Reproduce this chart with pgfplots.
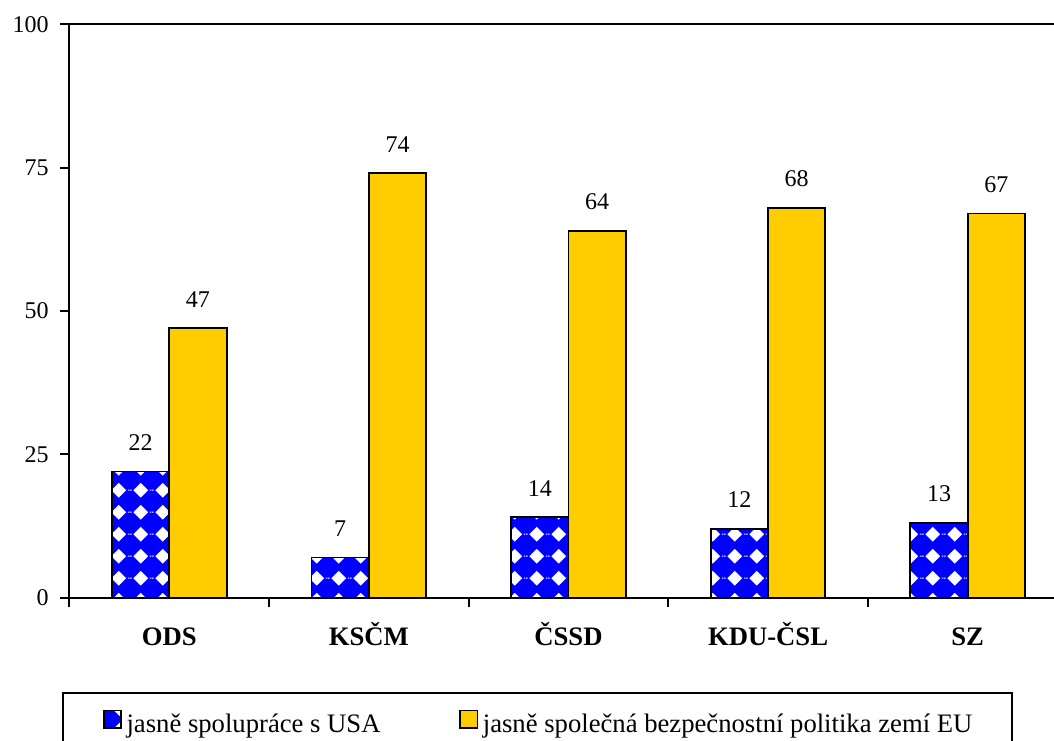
\documentclass[border=0pt]{standalone}
\usepackage{pgfplots}
\pgfplotsset{compat=1.18}
\usepackage{fontspec}
\setmainfont{Liberation Serif}
\usetikzlibrary{patterns}
\definecolor{barblue}{RGB}{0,0,255}
\definecolor{baryellow}{RGB}{255,204,0}
\pgfdeclarepatternformonly{wdiam}{\pgfqpoint{0pt}{0pt}}{\pgfqpoint{16.3pt}{16.3pt}}{\pgfqpoint{16.3pt}{16.3pt}}{%
  \pgfpathmoveto{\pgfqpoint{8.15pt}{2.6pt}}%
  \pgfpathlineto{\pgfqpoint{13.7pt}{8.15pt}}%
  \pgfpathlineto{\pgfqpoint{8.15pt}{13.7pt}}%
  \pgfpathlineto{\pgfqpoint{2.6pt}{8.15pt}}%
  \pgfpathclose
  \pgfpathrectangle{\pgfqpoint{0pt}{7.8pt}}{\pgfqpoint{1.3pt}{0.7pt}}%
  \pgfpathrectangle{\pgfqpoint{15pt}{7.8pt}}{\pgfqpoint{1.3pt}{0.7pt}}%
  \pgfusepath{fill}%
}
\pgfplotstableread{
x usa eu
0 22 47
1 7 74
2 14 64
3 12 68
4 13 67
}\mydata
\begin{document}
\begin{tikzpicture}
\begin{axis}[
  at={(52.1pt,107.5pt)}, anchor=south west,
  scale only axis, width=748.5pt, height=430pt,
  xmin=-0.5, xmax=4.5, ymin=0, ymax=100,
  ybar, bar width=43pt,
  font=\fontsize{18}{20}\selectfont,
  /pgf/number format/assume math mode=true,
  axis line style={line width=1.5pt},
  tick style={line width=1.5pt, black},
  tick align=outside,
  xtick pos=bottom, ytick pos=left,
  ytick={0,25,50,75,100},
  major tick length=7pt,
  xtick={-0.5,0.5,1.5,2.5,3.5,4.5},
  xticklabels={ODS,KSČM,ČSSD,KDU-ČSL,SZ,},
  xticklabel style={font=\fontsize{20}{22}\selectfont\bfseries, anchor=base, xshift=74.85pt, yshift=-29pt},
  yticklabel style={anchor=east, inner sep=0pt, xshift=-8.5pt},
  nodes near coords,
  nodes near coords style={font=\fontsize{18}{20}\selectfont, inner sep=0pt, anchor=south, yshift=15pt},
  legend columns=2,
  legend style={at={(axis description cs:-0.0075,-0.165)}, anchor=north west,
    draw=black, line width=1.5pt, inner xsep=30pt, inner ysep=12.25pt,
    font=\fontsize{20}{22}\selectfont,
    nodes={inner sep=0pt, text height=14pt, text depth=8pt},
    /tikz/every odd column/.append style={column sep=3.5pt},
    /tikz/every even column/.append style={column sep=59pt}},
  legend cell align=left,
  legend image code/.code={\draw[#1, line width=1.2pt, bar shift=0pt] (0pt,0.5pt) rectangle (13pt,13.5pt);},
]
\addplot[fill=barblue, draw=black, line width=1.4pt, bar shift=-21.5pt,
  postaction={pattern=wdiam, pattern color=white}] table[x=x,y=usa] {\mydata};
\addplot[fill=baryellow, draw=black, line width=1.4pt, bar shift=21.5pt] table[x=x,y=eu] {\mydata};
\legend{jasně spolupráce s USA, jasně společná bezpečnostní politika zemí EU}
\end{axis}
\pgfresetboundingbox
\path[use as bounding box] (0,0) rectangle (790.5pt,555.75pt);
\end{tikzpicture}
\end{document}
